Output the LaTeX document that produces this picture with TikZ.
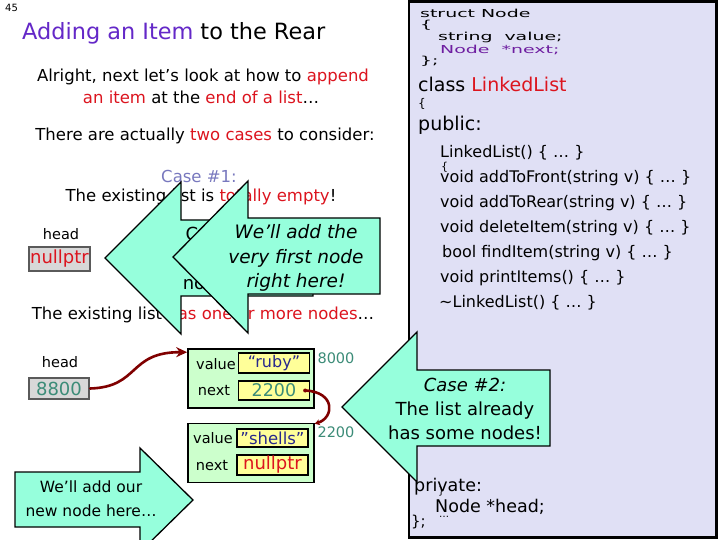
\documentclass[tikz,border=0pt]{standalone}
\usepackage{fontspec}
\setmainfont{DejaVu Sans}
\newfontfamily\widefont[FakeStretch=1.72]{DejaVu Sans}
\usetikzlibrary{arrows.meta}
\definecolor{titlepurple}{RGB}{100,40,200}
\definecolor{hilite}{RGB}{220,20,30}
\definecolor{caseblue}{RGB}{120,120,190}
\definecolor{numteal}{RGB}{60,140,120}
\definecolor{strnavy}{RGB}{40,40,140}
\definecolor{nodegreen}{RGB}{204,255,204}
\definecolor{fieldyellow}{RGB}{255,255,153}
\definecolor{boxgrey}{RGB}{216,216,216}
\definecolor{boxborder}{RGB}{90,90,90}
\definecolor{ptrred}{RGB}{128,0,0}
\definecolor{panel}{RGB}{224,224,245}
\definecolor{calloutfill}{RGB}{150,255,220}
\definecolor{nodepurple}{RGB}{110,30,160}
\newcommand{\fs}[1]{\fontsize{#1}{#1}\selectfont}
\newcommand{\fsl}[2]{\fontsize{#1}{#2}\selectfont}
\begin{document}
\begin{tikzpicture}[x=1pt,y=-1pt,
  txt/.style={inner sep=0pt, font=\fs{16.5}},
  code/.style={inner sep=0pt, anchor=west, font=\fs{16}},
  smallcode/.style={inner sep=0pt, anchor=west, font=\widefont\fs{11}},
  greybox/.style={draw=boxborder, line width=2.2pt, fill=boxgrey, inner sep=0pt},
  nodebox/.style={draw=black, line width=1.6pt, fill=nodegreen, inner sep=0pt},
  field/.style={draw=black, line width=1.3pt, fill=fieldyellow, inner sep=0pt, minimum width=71pt},
  label/.style={inner sep=0pt, font=\fs{14.5}},
  addr/.style={inner sep=0pt, font=\fs{14.5}, text=numteal},
  callout/.style={draw=black, line width=1.3pt, fill=calloutfill, line join=miter},
  callouttxt/.style={inner sep=0pt, align=center},
  ptr/.style={draw=ptrred, line width=2.6pt, line cap=round}
]
\useasboundingbox (0,0) rectangle (720,540);
\fill[white] (0,0) rectangle (720,540);

% ---------- code panel ----------
\draw[line width=2.6pt, fill=panel] (409,1.3) rectangle (716.5,537.5);
\node[smallcode] (c1) at (420,13) {struct Node};
\node[smallcode] (c2) at (420,25) {\{};
\node[smallcode] (c3) at (438,37) {string\ \ value;};
\node[smallcode, text=nodepurple] (c4) at (440,50) {Node\ \ *next;};
\node[smallcode] (c5) at (420,61) {\};};
\node[code, font=\fs{19}] (c6) at (418,84) {class \textcolor{hilite}{LinkedList}};
\node[code, font=\fs{12}] (c7) at (418,104) {\{};
\node[code, font=\fs{19}] (c8) at (418,125) {public:};
\node[code] (m1) at (440,153) {LinkedList() \{ … \}};
\node[code, font=\fs{11}] (m1b) at (441,167) {\{};
\node[code] (m2) at (440,178) {void addToFront(string v) \{ … \}};
\node[code] (m3) at (440,203) {void addToRear(string v) \{ … \}};
\node[code] (m4) at (440,228) {void deleteItem(string v) \{ … \}};
\node[code] (m5) at (442,253) {bool findItem(string v) \{ … \}};
\node[code] (m6) at (440,278) {void printItems() \{ … \}};
\node[code] (m7) at (439,303) {\textasciitilde LinkedList() \{ … \}};
\node[code, font=\fs{17.5}] (p1) at (414,487) {private:};
\node[code, font=\fs{10}] (p1b) at (438,492) {\}};
\node[code, font=\fs{17.5}] (p2) at (435,507) {Node *head;};
\node[code, font=\fs{10}] (p2b) at (439,517) {…};
\node[code, font=\fs{15}] (p3) at (411,522) {\};};

% ---------- left texts ----------
\node[inner sep=0pt, anchor=west, font=\fs{10}] (pg) at (5,8) {45};
\node[inner sep=0pt, anchor=west, font=\fs{22.4}] (title) at (22,33)
  {\textcolor{titlepurple}{Adding an Item} to the Rear};
\node[txt] (l1) at (203,77) {Alright, next let’s look at how to \textcolor{hilite}{append}};
\node[txt] (l2) at (201,97) {\textcolor{hilite}{an item} at the \textcolor{hilite}{end of a list}…};
\node[txt] (l3) at (205,136) {There are actually \textcolor{hilite}{two cases} to consider:};
\node[txt, text=caseblue] (case1) at (199,176) {Case \#1:};
\node[txt] (l4) at (201,197) {The existing list is \textcolor{hilite}{totally empty}!};
\node[label] (head1) at (61,234) {head};
\node[greybox, minimum width=61pt, minimum height=24pt, font=\fs{18}, text=hilite]
  (null1) at (59.5,259) {nullptr};
\node[txt] (l5) at (203,315) {The existing list \textcolor{hilite}{has one or more nodes}…};

% ---------- back callout (case 1) ----------
\draw[callout] (105,258) -- (181,182) -- (181,220) -- (313,220) -- (313,296)
  -- (181,296) -- (181,334) -- cycle;
\node[txt, font=\fs{18}] (frag1) at (192,234) {C};
\node[txt, font=\fs{18}] (frag2) at (194,285) {no};

% ---------- front callout (case 1) ----------
\draw[callout] (173,257) -- (248,181) -- (248,218) -- (380,218) -- (380,294)
  -- (248,294) -- (248,333) -- cycle;
\node[callouttxt, font=\itshape\fsl{18.5}{24.5}] (t2) at (296,258)
  {We’ll add the\\very first node\\right here!};

% ---------- linked list (case 2) ----------
\node[label] (head2) at (60,362) {head};
\node[greybox, minimum width=60pt, minimum height=21pt, font=\fs{18}, text=numteal]
  (h2) at (59,388.5) {8800};

\node[nodebox, minimum width=126pt, minimum height=59pt] (n1) at (251,378.5) {};
\node[label] (v1) at (216,364) {value};
\node[label] (x1) at (214,391) {next};
\node[field, minimum height=20pt, font=\fs{16}, text=strnavy] (vb1) at (274,363) {“ruby”};
\node[field, minimum height=19pt, font=\fs{17.5}, text=numteal] (nb1) at (274,390.5) {2200};
\node[addr] (a1) at (336,358) {8000};

\node[nodebox, minimum width=126pt, minimum height=59pt] (n2) at (251,453) {};
\node[label] (v2) at (213,438) {value};
\node[label] (x2) at (212,466) {next};
\node[field, minimum height=18pt, font=\fs{16.5}, text=strnavy] (vb2) at (272.5,438) {"shells"};
\node[field, minimum height=20pt, font=\fs{18}, text=hilite] (nb2) at (272.5,465) {nullptr};
\node[addr] (a2) at (336,432) {2200};

\draw[ptr, -{Stealth[length=11pt,width=10pt]}] (h2.east)
  .. controls (140,387) and (128,352) .. ([yshift=-4pt]n1.north west);
\fill[ptrred] ([xshift=-5pt]nb1.east) circle (2pt);
\draw[ptr, -{Stealth[length=5pt,width=6pt]}] ([xshift=-5pt]nb1.east)
  .. controls (336,392) and (334,418) .. ([yshift=-1pt]n2.north east);

% ---------- case 2 callout ----------
\draw[callout] (342,407) -- (417,332) -- (417,370) -- (550,370) -- (550,446)
  -- (417,446) -- (417,482) -- cycle;
\node[callouttxt, font=\fsl{18}{24}] (t3) at (465,409)
  {\textit{Case \#2:}\\The list already\\has some nodes!};

% ---------- bottom callout ----------
\draw[callout] (15,472) -- (140,472) -- (140,448) -- (193,500) -- (140,552)
  -- (140,527) -- (15,527) -- cycle;
\node[callouttxt, font=\fsl{15.5}{24}] (t4) at (91,499)
  {We’ll add our\\new node here…};
\end{tikzpicture}
\end{document}
